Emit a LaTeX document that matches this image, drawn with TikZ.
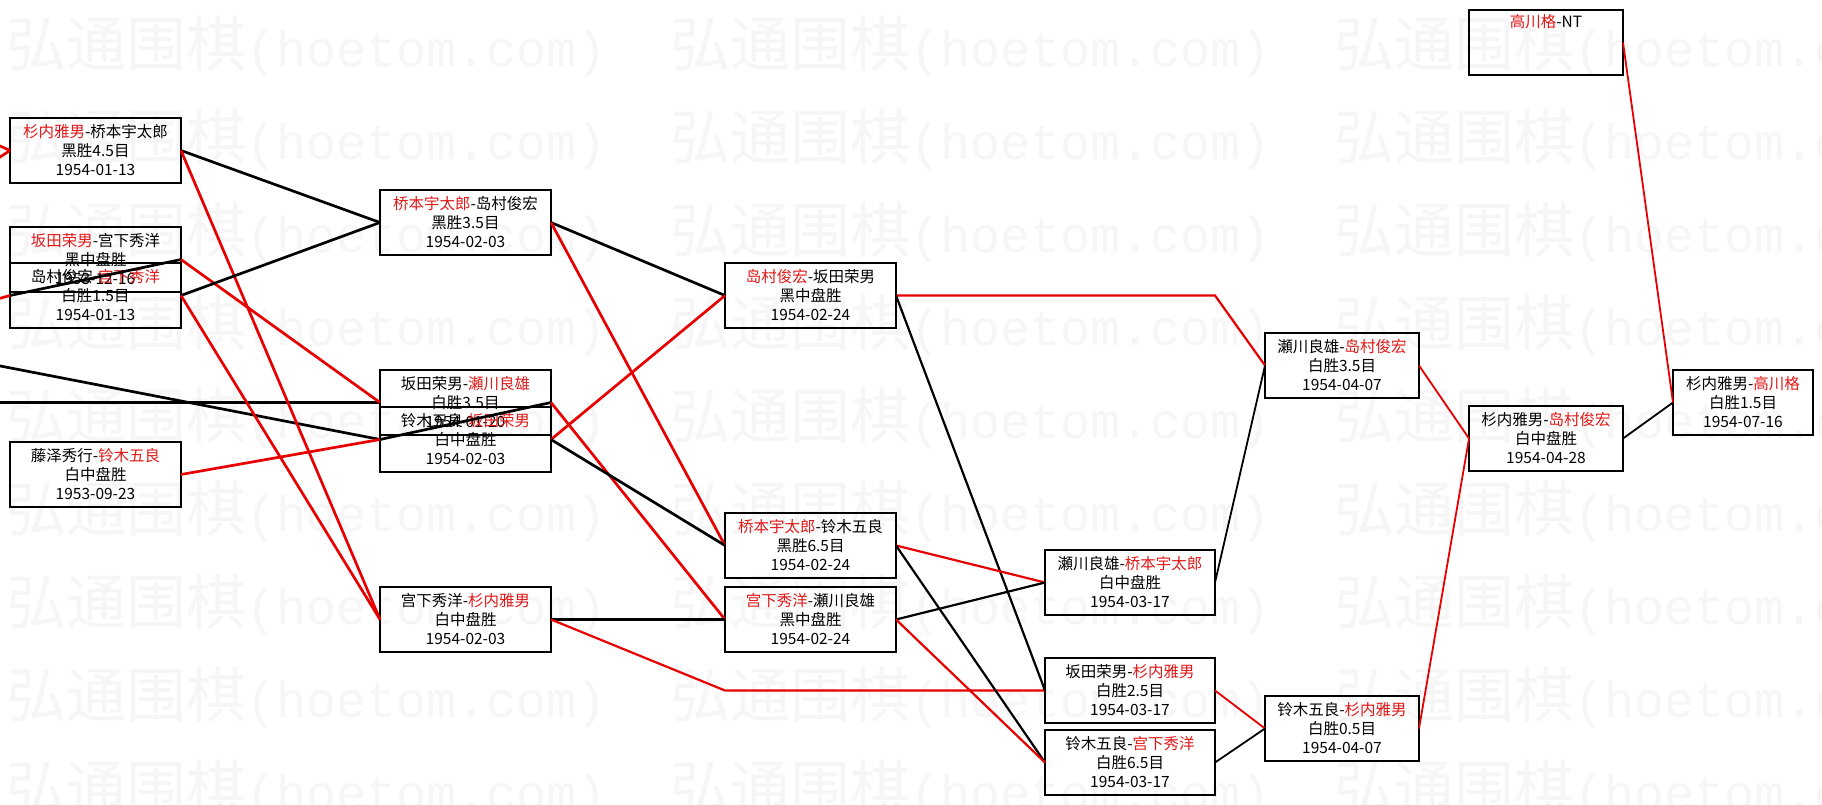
\documentclass[tikz,border=0pt]{standalone}
\usepackage{fontspec}
\setmainfont{Noto Sans CJK SC}
\newfontfamily\wmcjk{Noto Sans CJK SC}
\newfontfamily\wmlat{Liberation Mono}
\definecolor{lred}{RGB}{232,0,0}
\definecolor{tred}{RGB}{226,24,24}
\definecolor{wmgray}{RGB}{246,246,246}
\newcommand{\R}[1]{\textcolor{tred}{#1}}
\begin{document}
\begin{tikzpicture}[x=1pt,y=-1pt,
  game/.style={draw=black, line width=2.8pt, anchor=north west, minimum height=65pt,
    inner sep=0pt, outer sep=0pt, align=center, font=\fontsize{15.5}{19}\selectfont, text=black},
  lgame/.style={game, line width=2pt},
  wide/.style={minimum width=171pt},
  mid/.style={minimum width=154pt},
  narrow/.style={minimum width=140pt},
  win/.style={draw=lred, line width=2.7pt},
  lose/.style={draw=black, line width=2.7pt},
  winm/.style={draw=lred, line width=2.2pt},
  losem/.style={draw=black, line width=2.2pt},
  wint/.style={draw=lred, line width=1.8pt},
  loset/.style={draw=black, line width=1.8pt},
  wmark/.style={anchor=west, inner sep=0pt, text=wmgray, font=\fontsize{60}{60}\selectfont}
]
\useasboundingbox (0,0) rectangle (1822,805);
\fill[white] (0,0) rectangle (1822,805);
\clip (0,0) rectangle (1822,805);

% watermark
\foreach \r in {0,...,8} {
  \foreach \c in {0,1,2} {
    \node[wmark] (wm-\r-\c) at ({6+664*\c},{46+93*\r}) {{\wmcjk 弘通围棋}{\wmlat\fontsize{50}{60}\selectfont (hoetom.com)}};
  }
}

% column 1
\node[game,wide] (A) at (10,118) {\R{杉内雅男}-桥本宇太郎\\黑胜4.5目\\1954-01-13};
\node[game,wide] (B) at (10,227) {\R{坂田荣男}-宫下秀洋\\黑中盘胜\\1953-12-16};
\node[game,wide] (C) at (10,263) {岛村俊宏-\R{宫下秀洋}\\白胜1.5目\\1954-01-13};
\node[game,wide] (F) at (10,442) {藤泽秀行-\R{铃木五良}\\白中盘胜\\1953-09-23};
% column 2
\node[game,wide] (G) at (380,190) {\R{桥本宇太郎}-岛村俊宏\\黑胜3.5目\\1954-02-03};
\node[game,wide] (D) at (380,370) {坂田荣男-\R{瀬川良雄}\\白胜3.5目\\1954-01-20};
\node[game,wide] (E) at (380,407) {铃木五良-\R{坂田荣男}\\白中盘胜\\1954-02-03};
\node[game,wide] (H) at (380,587) {宫下秀洋-\R{杉内雅男}\\白中盘胜\\1954-02-03};
% column 3
\node[game,wide] (I) at (725,263) {\R{岛村俊宏}-坂田荣男\\黑中盘胜\\1954-02-24};
\node[game,wide] (J) at (725,513) {\R{桥本宇太郎}-铃木五良\\黑胜6.5目\\1954-02-24};
\node[game,wide] (K) at (725,587) {\R{宫下秀洋}-瀬川良雄\\黑中盘胜\\1954-02-24};
% column 4
\node[lgame,minimum width=170pt] (L) at (1045,550) {瀬川良雄-\R{桥本宇太郎}\\白中盘胜\\1954-03-17};
\node[lgame,minimum width=170pt] (M) at (1045,658) {坂田荣男-\R{杉内雅男}\\白胜2.5目\\1954-03-17};
\node[lgame,minimum width=170pt] (N) at (1045,730) {铃木五良-\R{宫下秀洋}\\白胜6.5目\\1954-03-17};
% column 5
\node[lgame,mid] (O) at (1265,333) {瀬川良雄-\R{岛村俊宏}\\白胜3.5目\\1954-04-07};
\node[lgame,mid] (P) at (1265,696) {铃木五良-\R{杉内雅男}\\白胜0.5目\\1954-04-07};
% column 6
\node[lgame,mid] (Q) at (1469,406) {杉内雅男-\R{岛村俊宏}\\白中盘胜\\1954-04-28};
\node[lgame,mid] (Rb) at (1469,10) {\R{高川格}-NT\\\strut\\\strut};
% column 7
\node[lgame,narrow] (S) at (1673,370) {杉内雅男-\R{高川格}\\白胜1.5目\\1954-07-16};

% helper coordinates
\coordinate (xa1) at (-40,128);
\coordinate (xa2) at (-40,183);
\coordinate (xc) at (-40,309.5);
\coordinate (xd) at (-10,402.5);
\coordinate (xe) at (-10,364);
\coordinate (hm) at (M.west -| J.west);
\coordinate (io) at (I.east -| L.east);

% connectors from off-canvas
\draw[win] (xa1) -- (A.west);
\draw[win] (xa2) -- (A.west);
\draw[win] (xc) -- (C.west);
\draw[lose] (xd) -- (D.west);
\draw[lose] (xe) -- (E.west);

% column 1 -> 2
\draw[lose] (A.east) -- (G.west);
\draw[win] (A.east) -- (H.west);
\draw[lose] (B.east) -- (C.west);
\draw[win] (B.east) -- (D.west);
\draw[lose] (C.east) -- (G.west);
\draw[win] (C.east) -- (H.west);
\draw[win] (F.east) -- (E.west);
\draw[lose] (D.east) -- (E.west);

% column 2 -> 3
\draw[lose] (G.east) -- (I.west);
\draw[win] (G.east) -- (J.west);
\draw[win] (D.east) -- (K.west);
\draw[win] (E.east) -- (I.west);
\draw[lose] (E.east) -- (J.west);
\draw[lose] (H.east) -- (K.west);
\draw[winm] (H.east) -- (hm) -- (M.west);

% column 3 -> 4/5
\draw[winm] (I.east) -- (io) -- (O.west);
\draw[losem] (I.east) -- (M.west);
\draw[winm] (J.east) -- (L.west);
\draw[losem] (J.east) -- (N.west);
\draw[losem] (K.east) -- (L.west);
\draw[winm] (K.east) -- (N.west);

% later columns
\draw[loset] (L.east) -- (O.west);
\draw[wint] (M.east) -- (P.west);
\draw[loset] (N.east) -- (P.west);
\draw[wint] (O.east) -- (Q.west);
\draw[wint] (P.east) -- (Q.west);
\draw[loset] (Q.east) -- (S.west);
\draw[wint] (Rb.east) -- (S.west);
\end{tikzpicture}
\end{document}
